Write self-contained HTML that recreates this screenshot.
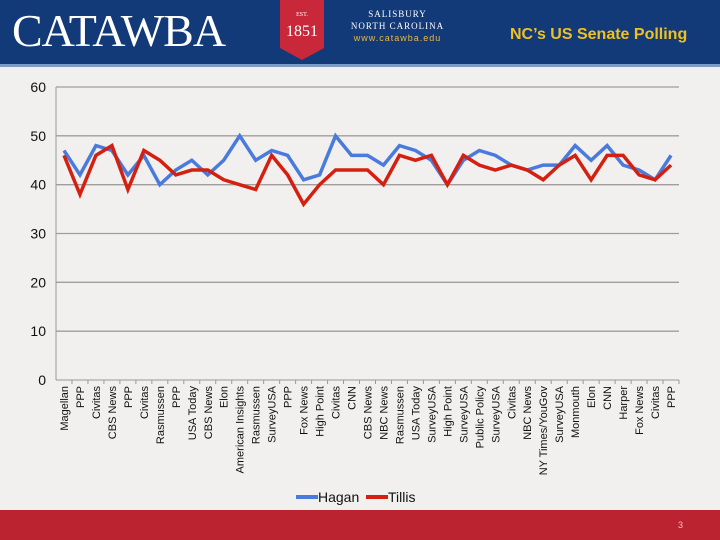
<!DOCTYPE html>
<html><head><meta charset="utf-8"><style>
body{margin:0;width:720px;height:540px;overflow:hidden;background:#f1f0ef;font-family:"Liberation Sans",sans-serif;position:relative}
#hdr{position:absolute;left:0;top:0;width:720px;height:64px;background:#123a78;border-bottom:3px solid #7a9cc6}
#foot{position:absolute;left:0;top:510px;width:720px;height:30px;background:#bb2330}
</style></head><body>
<div id="hdr">
<div style="position:absolute;left:12px;top:4px;color:#fff;font-family:'Liberation Serif',serif;font-size:46px;letter-spacing:-1px">CATAWBA</div>
<svg style="position:absolute;left:278px;top:0" width="50" height="62"><polygon points="2,0 46,0 46,48 24,60 2,48" fill="#c8283a"/><text x="24" y="16" fill="#fff" font-size="6" text-anchor="middle" font-family="Liberation Serif">EST.</text><text x="24" y="36" fill="#fff" font-size="16" text-anchor="middle" font-family="Liberation Serif">1851</text></svg>
<div style="position:absolute;left:340px;top:8px;width:115px;text-align:center;color:#fff;font-family:'Liberation Serif',serif;font-size:9px;line-height:12px;letter-spacing:1px">SALISBURY<br>NORTH CAROLINA<br><span style="color:#e8b84a;font-family:'Liberation Sans';font-size:9px">www.catawba.edu</span></div>
<div style="position:absolute;left:510px;top:26px;color:#f0c020;font-weight:bold;font-size:16px">NC’s US Senate Polling</div>
</div>
<svg id="chart" width="720" height="510" style="position:absolute;left:0;top:0"></svg>
<div id="foot"><span style="position:absolute;right:37px;top:10px;color:#f3c0c0;font-size:9px">3</span></div>
<script>
const categories=["Magellan","PPP","Civitas","CBS News","PPP","Civitas","Rasmussen","PPP","USA Today","CBS News","Elon","American Insights","Rasmussen","SurveyUSA","PPP","Fox News","High Point","Civitas","CNN","CBS News","NBC News","Rasmussen","USA Today","SurveyUSA","High Point","SurveyUSA","Public Policy","SurveyUSA","Civitas","NBC News","NY Times/YouGov","SurveyUSA","Monmouth","Elon","CNN","Harper","Fox News","Civitas","PPP"];
const hagan=[47,42,48,47,42,46,40,43,45,42,45,50,45,47,46,41,42,50,46,46,44,48,47,45,40,45,47,46,44,43,44,44,48,45,48,44,43,41,46];
const tillis=[46,38,46,48,39,47,45,42,43,43,41,40,39,46,42,36,40,43,43,43,40,46,45,46,40,46,44,43,44,43,41,44,46,41,46,46,42,41,44];
const yTicks=[0,10,20,30,40,50,60];
const NS="http://www.w3.org/2000/svg";
const svg=document.getElementById('chart');
const x0=56,x1=679,y0=380,y1=87;
const bw=(x1-x0)/categories.length;
const xs=i=>x0+bw*(i+0.5);
const ys=v=>y0-(v/60)*(y0-y1);
function mk(t,a){const e=document.createElementNS(NS,t);for(const k in a)e.setAttribute(k,a[k]);svg.appendChild(e);return e;}
yTicks.forEach(v=>{
 if(v>0){const g=mk('line',{x1:x0,x2:x1,y1:ys(v),y2:ys(v),stroke:'#a09e9c','stroke-width':1.3});
 
 }
 const t=mk('text',{x:46,y:ys(v)+5,'text-anchor':'end','font-size':14,fill:'#111'});t.textContent=v;
 
 
});
const ax=mk('line',{x1:x0,x2:x0,y1:y1,y2:y0,stroke:'#999','stroke-width':1});


const xa=mk('line',{x1:x0,x2:x1,y1:y0,y2:y0,stroke:'#999','stroke-width':1});


categories.forEach((c,i)=>{
 const tk=mk('line',{x1:x0+bw*(i+1),x2:x0+bw*(i+1),y1:y0,y2:y0+4,stroke:'#999'});
 
 
 const t=mk('text',{transform:`translate(${xs(i)+4},386) rotate(-90)`,'text-anchor':'end','font-size':11,fill:'#111'});
 t.textContent=c;
 
 
});
function line(vals,col,name){
 const p=mk('polyline',{points:vals.map((v,i)=>xs(i)+','+ys(v)).join(' '),fill:'none',stroke:col,'stroke-width':3.5,'stroke-linejoin':'miter'});
 
 
}
line(hagan,'#4a7bdc','hagan-line');
line(tillis,'#d42010','tillis-line');
[['Hagan','#4a7bdc',296],['Tillis','#d42010',366]].forEach(([n,c,x])=>{
 const l=mk('line',{x1:x,x2:x+22,y1:497,y2:497,stroke:c,'stroke-width':4});
 
 
 const t=mk('text',{x:x+22,y:502,'font-size':14,fill:'#111'});t.textContent=n;
 
 
});
</script>
</body></html>
